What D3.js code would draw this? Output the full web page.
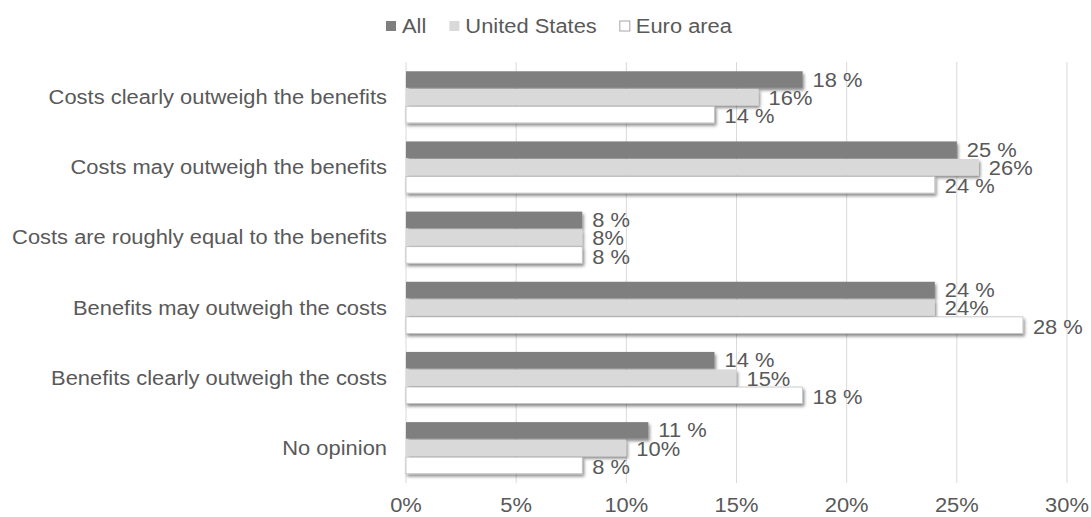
<!DOCTYPE html>
<html><head><meta charset="utf-8">
<script src="https://cdn.jsdelivr.net/npm/d3@7"></script>
<style>body{margin:0;background:#fff;} text{font-family:"Liberation Sans",Arial,sans-serif;}</style>
</head><body>
<svg id="c" width="1091" height="517"></svg>
<script>
const categories = ["Costs clearly outweigh the benefits","Costs may outweigh the benefits","Costs are roughly equal to the benefits","Benefits may outweigh the costs","Benefits clearly outweigh the costs","No opinion"];
const seriesNames = ["All","United States","Euro area"];
const allValues = [18,25,8,24,14,11];
const usValues = [16,26,8,24,15,10];
const euroValues = [14,24,8,28,18,8];
const labelSuffix = [" %","%"," %"];
const xTicks = [0,5,10,15,20,25,30];
const colors = ["#7f7f7f","#d9d9d9","#ffffff"];
const strokes = ["none","none","#bfbfbf"];
const seriesValues = [allValues, usValues, euroValues];

const FS = 20, SX = 1.095, TXT = "#595959";
const svg = d3.select("#c");
const defs = svg.append("defs");
const f = defs.append("filter").attr("id","sh").attr("x","-5%").attr("y","-30%").attr("width","110%").attr("height","180%");
f.append("feDropShadow").attr("dx",1.5).attr("dy",2.5).attr("stdDeviation",1.5).attr("flood-color","#000").attr("flood-opacity",0.45);

const x = d3.scaleLinear().domain([0,30]).range([406,1067]);
const y = d3.scaleBand().domain(categories).range([62,483]).paddingInner(0.25).paddingOuter(0.125);
const ys = d3.scaleBand().domain(seriesNames).range([0,y.bandwidth()]);

function place(sel, fx, fy, anchor){
  sel.attr("x",0).attr("y",0).attr("text-anchor",anchor).attr("font-size",FS).attr("fill",TXT)
    .attr("transform",(d,i)=>`translate(${fx(d,i)},${fy(d,i)}) scale(${SX},1)`);
}

// gridlines
svg.append("g").selectAll("line").data(xTicks).join("line")
  .attr("x1",d=>x(d)).attr("x2",d=>x(d)).attr("y1",62).attr("y2",483)
  .attr("stroke","#d9d9d9").attr("stroke-width",1);

// x tick labels
svg.append("g").selectAll("text").data(xTicks).join("text")
  .text(d=>d+"%").attr("dy","0.35em")
  .call(place, d=>x(d), d=>505, "middle");

// category labels
svg.append("g").selectAll("text").data(categories).join("text")
  .text(d=>d).attr("dy","0.35em")
  .call(place, d=>387, d=>y(d)+y.bandwidth()/2, "end");

// bars
seriesNames.forEach((s,si)=>{
  svg.append("g").selectAll("rect").data(categories).join("rect")
    .attr("x",x(0))
    .attr("y",(c)=>y(c)+ys(s)+0.5)
    .attr("width",(c,i)=>x(seriesValues[si][i])-x(0))
    .attr("height",ys.bandwidth()-1)
    .attr("fill",colors[si]).attr("stroke",strokes[si]).attr("stroke-width",0.8)
    .attr("filter","url(#sh)");
});
// data labels
seriesNames.forEach((s,si)=>{
  svg.append("g").selectAll("text").data(categories).join("text")
    .text((c,i)=>seriesValues[si][i]+labelSuffix[si]).attr("dy","0.35em")
    .call(place, (c,i)=>x(seriesValues[si][i])+10, (c)=>y(c)+ys(s)+ys.bandwidth()/2+si*0.8, "start");
});

// legend
const legend = svg.append("g");
const items = legend.selectAll("g").data(seriesNames).join("g");
items.append("rect").attr("width",10).attr("height",10).attr("y",-5)
  .attr("fill",(d,i)=>colors[i]).attr("stroke",(d,i)=>strokes[i]==="none"?"none":"#a6a6a6").attr("stroke-width",1);
items.append("text").text(d=>d).attr("dy","0.35em").call(place, ()=>16, ()=>0, "start");
let lx = 0;
items.each(function(){ d3.select(this).attr("transform",`translate(${lx},0)`); lx += this.getBBox().width + 23; });
legend.attr("transform",`translate(386,26)`);
</script>
</body></html>
